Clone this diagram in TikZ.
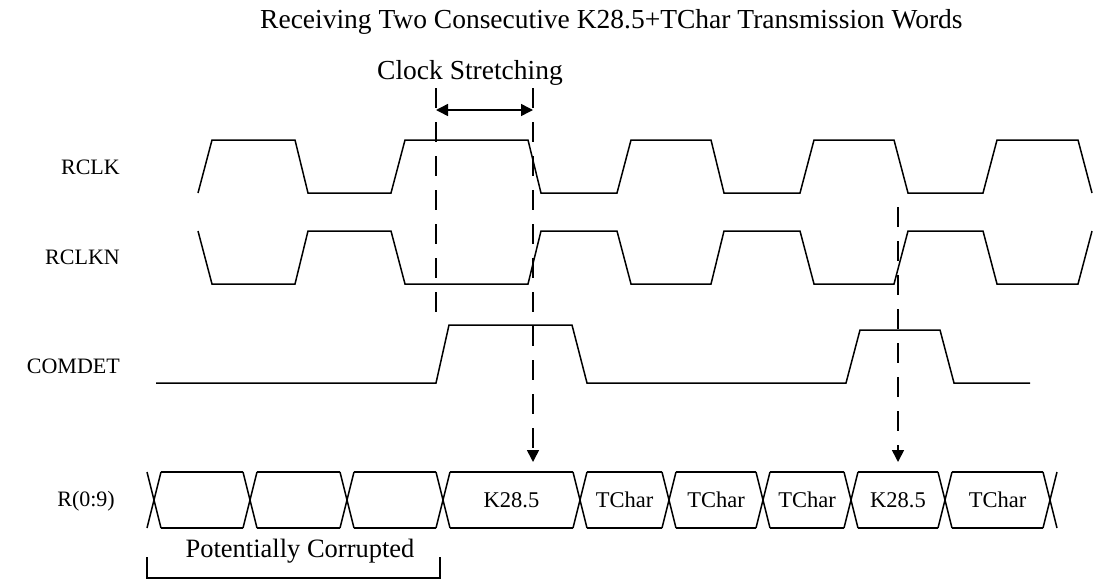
\documentclass[tikz,border=0pt]{standalone}
\usepackage{fontspec}
\setmainfont{Liberation Serif}
\usetikzlibrary{arrows.meta}

\begin{document}
\begin{tikzpicture}%
[x=1pt, y=-1pt,%
sig/.style={line width=1.5pt, line join=miter},%
guide/.style={line width=1.6pt, dash pattern=on 20pt off 14pt},%
tip/.style={-{Triangle[length=12pt, width=12pt]}},%
big/.style={font=\fontsize{27.5}{32}\selectfont, inner sep=0pt},%
lbl/.style={font=\fontsize{22}{26}\selectfont, inner sep=0pt, anchor=east},%
cell/.style={font=\fontsize{22.5}{26}\selectfont, inner sep=0pt}]
\useasboundingbox (0,0) rectangle (1094,581);

% title and labels
\node[big, anchor=west] (title) at (260,22) {Receiving Two Consecutive K28.5+TChar Transmission Words};
\node[lbl] (rclk) at (120,167) {RCLK};
\node[lbl] (rclkn) at (120,257) {RCLKN};
\node[lbl] (comdet) at (120,366) {COMDET};
\node[lbl] (rbus) at (115,501) {R(0:9)};

% clocks
\draw[sig] (198,193) -- (212,140) -- (295,140) -- (308,193) -- (391,193) -- (405,140)
  -- (528,140) -- (541,193) -- (617,193) -- (631,140) -- (711,140) -- (724,193)
  -- (800,193) -- (814,140) -- (894,140) -- (908,193) -- (983,193) -- (997,140)
  -- (1078,140) -- (1092,193);
\draw[sig] (198,231) -- (212,284) -- (295,284) -- (308,231) -- (391,231) -- (405,284)
  -- (528,284) -- (541,231) -- (617,231) -- (631,284) -- (711,284) -- (724,231)
  -- (800,231) -- (814,284) -- (894,284) -- (908,231) -- (983,231) -- (997,284)
  -- (1078,284) -- (1092,231);

% comdet
\draw[sig] (156,383) -- (436,383) -- (449,325) -- (572,325) -- (587,383) -- (846,383)
  -- (860,330) -- (940,330) -- (954,383) -- (1030,383);

% data bus
\foreach \c in {154,250,347,443,580,669,763,851,945,1050}
  \draw[sig] (\c-7,472) -- (\c+7,528) (\c-7,528) -- (\c+7,472);
\foreach \a/\b in {154/250,250/347,347/443,443/580,580/669,669/763,763/851,851/945,945/1050}
  \draw[sig] (\a+7,472) -- (\b-7,472) (\a+7,528) -- (\b-7,528);
\node[cell] (k1) at (511.5,500) {K28.5};
\node[cell] (t1) at (624.5,500) {TChar};
\node[cell] (t2) at (716,500) {TChar};
\node[cell] (t3) at (807,500) {TChar};
\node[cell] (k2) at (898,500) {K28.5};
\node[cell] (t4) at (997.5,500) {TChar};

% stretching
\coordinate (s1) at (436,88);
\coordinate (s1e) at (436,325);
\coordinate (s2) at (533,88);
\coordinate (s2e) at (533,462);
\coordinate (s3) at (898,207);
\coordinate (s3e) at (898,462);
\coordinate (a1) at (436,110);
\coordinate (a2) at (533,110);
\draw[guide] (s1) -- (s1e);
\draw[guide, tip] (s2) -- (s2e);
\draw[guide, tip] (s3) -- (s3e);
\draw[sig, {Triangle[length=12pt, width=12pt]}-{Triangle[length=12pt, width=12pt]}] (a1) -- (a2);
\node[big] (stretch) at (470,73) {Clock Stretching};

% corrupted words
\coordinate (b1) at (147,557);
\coordinate (b2) at (440,557);
\draw[sig] (b1) -- ++(0,21) -| (b2);
\node[big, font=\fontsize{26.5}{30}\selectfont] (corrupt) at (300,551) {Potentially Corrupted};
\end{tikzpicture}
\end{document}
